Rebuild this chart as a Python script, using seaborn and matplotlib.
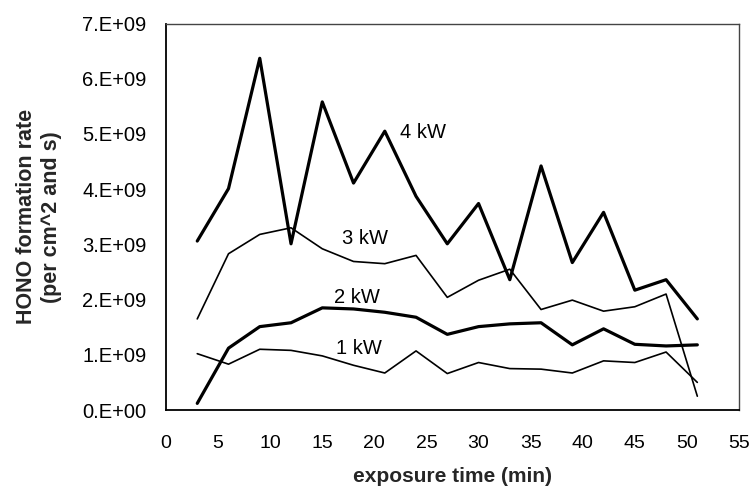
import matplotlib
matplotlib.use("Agg")
import matplotlib.pyplot as plt
import seaborn as sns
import pandas as pd

# ---- data ----
time_min = [3, 6, 9, 12, 15, 18, 21, 24, 27, 30, 33, 36, 39, 42, 45, 48, 51]
rate_1kw = [1.02e9, 0.83e9, 1.10e9, 1.08e9, 0.98e9, 0.81e9, 0.67e9, 1.07e9, 0.66e9,
            0.86e9, 0.75e9, 0.74e9, 0.67e9, 0.89e9, 0.86e9, 1.05e9, 0.50e9]
rate_2kw = [0.12e9, 1.12e9, 1.51e9, 1.58e9, 1.85e9, 1.83e9, 1.77e9, 1.68e9, 1.37e9,
            1.51e9, 1.56e9, 1.58e9, 1.18e9, 1.47e9, 1.19e9, 1.16e9, 1.18e9]
rate_3kw = [1.65e9, 2.83e9, 3.18e9, 3.30e9, 2.92e9, 2.69e9, 2.65e9, 2.80e9, 2.04e9,
            2.35e9, 2.55e9, 1.82e9, 1.99e9, 1.79e9, 1.87e9, 2.10e9, 0.25e9]
rate_4kw = [3.06e9, 4.01e9, 6.37e9, 3.01e9, 5.58e9, 4.11e9, 5.05e9, 3.87e9, 3.01e9,
            3.74e9, 2.36e9, 4.42e9, 2.67e9, 3.58e9, 2.17e9, 2.36e9, 1.65e9]
series_names = ["1 kW", "2 kW", "3 kW", "4 kW"]
x_ticks = [0, 5, 10, 15, 20, 25, 30, 35, 40, 45, 50, 55]
y_ticks = [0, 1e9, 2e9, 3e9, 4e9, 5e9, 6e9, 7e9]
y_tick_labels = ["0.E+00", "1.E+09", "2.E+09", "3.E+09", "4.E+09", "5.E+09", "6.E+09", "7.E+09"]

# label anchor positions (data coords)
label_x = [16.3, 16.1, 16.9, 22.5]
label_y = [1.12e9, 2.04e9, 3.11e9, 5.03e9]

sns.set_style("white")
plt.rcParams['font.family'] = ['Liberation Sans', 'DejaVu Sans']

fig = plt.figure(figsize=(7.56, 4.88), dpi=100)
ax = fig.add_axes([166/756, 1-410/488, (739-166)/756, (410-23.5)/488])

widths = [1.2, 2.3, 1.2, 2.3]
all_rates = [rate_1kw, rate_2kw, rate_3kw, rate_4kw]
for name, vals, lw in zip(series_names, all_rates, widths):
    df = pd.DataFrame({"time": time_min, "rate": vals})
    sns.lineplot(data=df, x="time", y="rate", ax=ax, color="black", linewidth=lw,
                 estimator=None, sort=False)

for name, lx, ly in zip(series_names, label_x, label_y):
    ax.text(lx, ly, name, fontsize=14.5, va="center", ha="left", color="black")

ax.set_xlim(0, 55)
ax.set_ylim(0, 7e9)
ax.set_xticks(x_ticks)
ax.set_xticklabels([str(t) for t in x_ticks], fontsize=14)
ax.set_yticks(y_ticks)
ax.set_yticklabels(y_tick_labels, fontsize=14.5)
ax.tick_params(axis="x", direction="inout", length=9, width=1, pad=13.5, colors="black")
ax.tick_params(axis="y", direction="inout", length=10, width=1, pad=9, colors="black")

ax.set_xlabel("exposure time (min)", fontsize=15, fontweight="bold")
ax.set_ylabel("HONO formation rate\n(per cm^2 and s)", fontsize=15.5, fontweight="bold",
              linespacing=1.25)
ax.xaxis.set_label_coords(0.5, -0.147)
ax.yaxis.set_label_coords((62 - 166) / 573, 0.5)

for side in ["left", "bottom"]:
    ax.spines[side].set_color("black")
    ax.spines[side].set_linewidth(1.3)
for side in ["top", "right"]:
    ax.spines[side].set_visible(True)
    ax.spines[side].set_color("#444444")
    ax.spines[side].set_linewidth(1.0)
    ax.spines[side].set_linestyle((0, (1.5, 1)))

fig.savefig("out.png", dpi=100)
